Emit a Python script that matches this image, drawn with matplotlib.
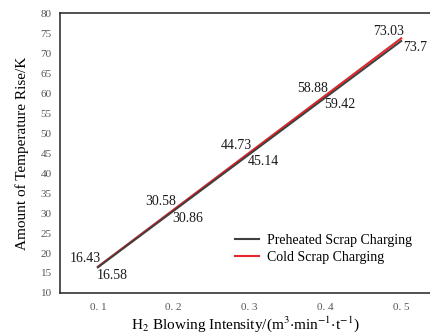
import matplotlib
matplotlib.use("Agg")
import matplotlib.pyplot as plt

# blowing intensity, m3/(min t)
intensity = [0.1, 0.2, 0.3, 0.4, 0.5]
preheated = [16.43, 30.58, 44.73, 58.88, 73.03]
cold = [16.58, 30.86, 45.14, 59.42, 73.7]
xtick_labels = ["0. 1", "0. 2", "0. 3", "0. 4", "0. 5"]
yticks = list(range(10, 81, 5))

plt.rcParams['font.family'] = ['Liberation Serif', 'DejaVu Serif']
plt.rcParams['mathtext.fontset'] = 'stix'

fig = plt.figure(figsize=(4.3, 3.36), dpi=100)
ax = fig.add_axes([0.1395, 0.128, 0.8605, 0.833])

ax.plot(intensity, cold, color='#e8262b', lw=1.5, label='Cold Scrap Charging')
ax.plot(intensity, preheated, color='#404040', lw=1.5, label='Preheated Scrap Charging')

for x, y in zip(intensity, preheated):
    ax.annotate(str(y), (x, y), xytext=(-13, 9), textcoords='offset pixels',
                ha='center', va='center', fontsize=10, color='#1a1a1a')
for x, y in zip(intensity, cold):
    ax.annotate(str(y), (x, y), xytext=(14, -9), textcoords='offset pixels',
                ha='center', va='center', fontsize=10, color='#1a1a1a')

ax.set_xlim(0.05, 0.538)
ax.set_ylim(10, 80)
ax.set_xticks(intensity)
ax.set_xticklabels(xtick_labels)
ax.set_yticks(yticks)
ax.tick_params(length=0, labelsize=8, labelcolor='#555555')
ax.tick_params(axis='x', pad=7)
ax.tick_params(axis='y', pad=6)

for s in ['left', 'bottom', 'top']:
    ax.spines[s].set_color('#333333')
    ax.spines[s].set_linewidth(1.2)
ax.spines['right'].set_visible(False)

ax.set_ylabel('Amount of Temperature Rise/K', fontsize=11, labelpad=8)
ax.set_xlabel('H$_2$ Blowing Intensity/(m$^3$$\\cdot$min$^{-1}$$\\cdot$t$^{-1}$)',
              fontsize=11, labelpad=2)

handles, labels = ax.get_legend_handles_labels()
ax.legend(handles[::-1], labels[::-1], loc='lower right', bbox_to_anchor=(0.985, 0.06),
          frameon=False, fontsize=10, handlelength=1.7, handletextpad=0.6,
          labelspacing=0.3)

fig.savefig('out.png', dpi=100)
